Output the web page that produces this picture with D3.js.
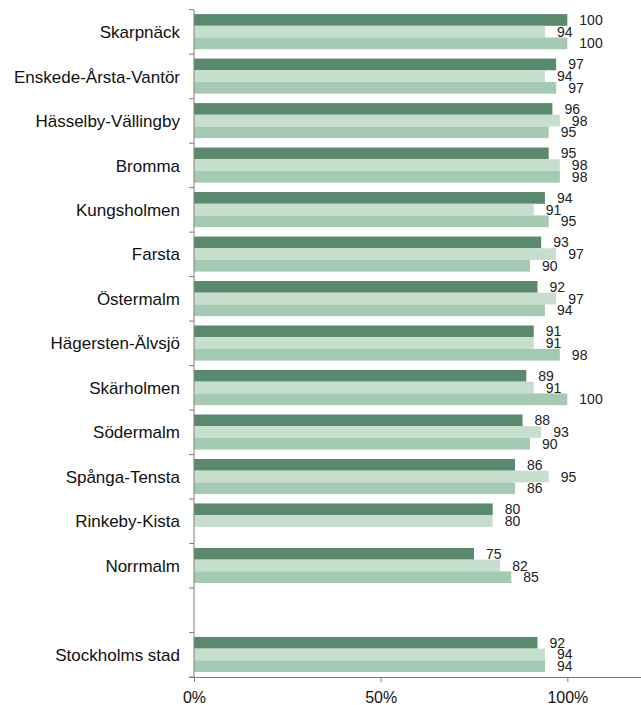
<!DOCTYPE html>
<html>
<head>
<meta charset="utf-8">
<script src="https://cdn.jsdelivr.net/npm/d3@7"></script>
<style>
  html, body { margin: 0; padding: 0; background: #fff; }
  svg { display: block; font-family: "Liberation Sans", Arial, sans-serif; }
</style>
</head>
<body>
<svg id="chart" width="641" height="705"></svg>
<script>
const categories = ["Skarpnäck", "Enskede-Årsta-Vantör", "Hässelby-Vällingby", "Bromma", "Kungsholmen",
  "Farsta", "Östermalm", "Hägersten-Älvsjö", "Skärholmen", "Södermalm", "Spånga-Tensta",
  "Rinkeby-Kista", "Norrmalm", "", "Stockholms stad"];
const series1 = [100, 97, 96, 95, 94, 93, 92, 91, 89, 88, 86, 80, 75, null, 92];
const series2 = [94, 94, 98, 98, 91, 97, 97, 91, 91, 93, 95, 80, 82, null, 94];
const series3 = [100, 97, 95, 98, 95, 90, 94, 98, 100, 90, 86, null, 85, null, 94];
const seriesColors = ["#588a6b", "#c6dfcd", "#a4cbb1"];
const xTicks = [0, 50, 100];

(function () {
const svg = d3.select("#chart");
const mLeft = 194, mRight = 642, mTop = 9.7, mBottom = 677;

const x = d3.scaleLinear().domain([0, 120]).range([mLeft, mRight]);
const keys = categories.map((c, i) => "k" + i);
const y = d3.scaleBand().domain(keys).range([mTop, mBottom]).padding(0);
const bw = y.bandwidth();
const sub = d3.scaleBand().domain([0, 1, 2]).range([4.4, bw - 5]).padding(0);

const allSeries = [series1, series2, series3];
const rows = [];
keys.forEach((k, i) => {
  allSeries.forEach((s, j) => {
    if (s[i] != null) rows.push({ k, j, v: s[i] });
  });
});

// bars
svg.append("g").selectAll("rect").data(rows).join("rect")
  .attr("x", x(0))
  .attr("y", d => y(d.k) + sub(d.j))
  .attr("width", d => x(d.v) - x(0))
  .attr("height", sub.bandwidth())
  .attr("fill", d => seriesColors[d.j]);

// value labels
svg.append("g").selectAll("text").data(rows).join("text")
  .attr("x", d => x(d.v) + 12)
  .attr("y", d => y(d.k) + sub(d.j) + sub.bandwidth() / 2)
  .attr("dy", "0.36em")
  .attr("font-size", 14)
  .attr("fill", "#222")
  .text(d => d.v);

// y axis
const axisColor = "#7f7f7f";
const ya = svg.append("g");
ya.append("line").attr("x1", mLeft).attr("x2", mLeft).attr("y1", mTop).attr("y2", mBottom)
  .attr("stroke", axisColor).attr("stroke-width", 1);
const boundaries = keys.map(k => y(k)).concat([y.range()[1]]);
ya.selectAll("line.tk").data(boundaries).join("line").attr("class", "tk")
  .attr("x1", mLeft - 5).attr("x2", mLeft).attr("y1", d => d).attr("y2", d => d)
  .attr("stroke", axisColor);
ya.selectAll("text").data(keys).join("text")
  .attr("x", 180)
  .attr("y", d => y(d) + bw / 2)
  .attr("dy", "0.36em")
  .attr("text-anchor", "end")
  .attr("font-size", 17)
  .attr("fill", "#111")
  .text((d, i) => categories[i]);

// x axis
const xa = svg.append("g").attr("transform", `translate(0,${mBottom})`)
  .call(d3.axisBottom(x).tickValues(xTicks).tickSize(5).tickPadding(10).tickFormat(d => d + "%"));
xa.select(".domain").attr("stroke", axisColor).attr("d", `M${mLeft - 5},0.5H${mRight}`);
xa.selectAll(".tick line").attr("stroke", axisColor);
xa.selectAll(".tick text").attr("font-size", 16).attr("fill", "#111")
  .attr("font-family", '"Liberation Sans", Arial, sans-serif');
})();
</script>
</body>
</html>
